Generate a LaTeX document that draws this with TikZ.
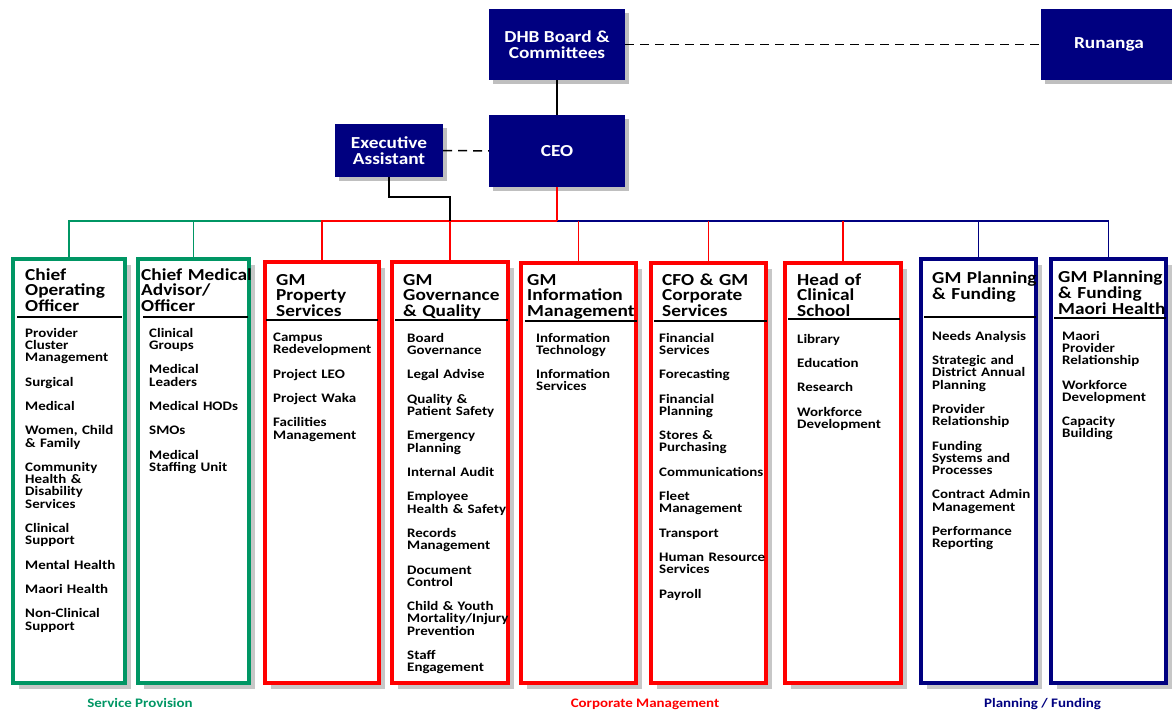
\documentclass[tikz,border=0pt]{standalone}
\usepackage{fontspec}
\setmainfont[FakeStretch=1.15]{Carlito}
\usepackage{xcolor}
\usetikzlibrary{shadows,fit}
\definecolor{navy}{RGB}{0,0,128}
\definecolor{dhbred}{RGB}{255,0,0}
\definecolor{dhbgreen}{RGB}{0,150,100}
\newcommand{\headfont}{\fontsize{16.8}{15.8}\selectfont\bfseries}
\newcommand{\itemfont}{\fontsize{13}{12.2}\selectfont\bfseries}
\newcommand{\nextitem}{\\[12.2pt]}
\tikzset{
	x=1pt, y=-1pt,
	topbox/.style={fill=navy, text=white, font=\headfont, align=center, inner sep=0pt,
		minimum width=136pt,
		drop shadow={shadow xshift=4pt, shadow yshift=-4pt, fill=black!25, opacity=1}},
	colbox/.style={draw=#1, line width=4pt, fill=white, inner sep=0pt,
		drop shadow={shadow xshift=5.5pt, shadow yshift=-5.5pt, fill=black!22, opacity=1}},
	heading/.style={anchor=base west, align=left, text width=135pt, inner sep=0pt, font=\headfont},
	items/.style={anchor=base west, align=left, text width=125pt, inner sep=0pt, font=\itemfont},
	headrule/.style={black, line width=1.5pt},
	link/.style={line width=1.5pt},
	tie/.style={link, dash pattern=on 9pt off 6pt},
	arealabel/.style={anchor=base, inner sep=0pt, font=\fontsize{13}{13}\selectfont\bfseries, text=#1},
}
\begin{document}
\begin{tikzpicture}
	\useasboundingbox (0,0) rectangle (1172,710);

	% board, CEO and the rest of the top
	\node[topbox, minimum height=71pt] (board) at (557,44.5) {DHB Board \&\\Committees};
	\node[topbox, minimum height=71pt] (runanga) at (1109,44.5) {Runanga};
	\node[topbox, minimum height=72pt] (ceo) at (557,151) {CEO};
	\node[topbox, minimum width=108pt, minimum height=53pt] (ea) at (389,150.5) {Executive\\Assistant};

	% the columns
	\node[colbox=dhbgreen, fit={(13,259) (125,683)}] (coo) {};
	\node[colbox=dhbgreen, fit={(138,259) (249,683)}] (cma) {};
	\node[colbox=dhbred, fit={(265,262) (379,683)}] (prop) {};
	\node[colbox=dhbred, fit={(392,262) (508,683)}] (gov) {};
	\node[colbox=dhbred, fit={(521,263) (636,683)}] (info) {};
	\node[colbox=dhbred, fit={(651,263) (766,683)}] (cfo) {};
	\node[colbox=dhbred, fit={(785,263) (901,683)}] (school) {};
	\node[colbox=navy, fit={(921,259) (1036,683)}] (pf) {};
	\node[colbox=navy, fit={(1051,259) (1166,683)}] (pfm) {};

	% connectors
	\draw[link] (board) -- (ceo);
	\draw[tie] (board) -- (runanga);
	\draw[tie] (ea) -- (ceo);
	\coordinate (bus) at (557,221);
	\draw[link, navy] (pfm.north) |- (bus);
	\draw[link, navy] (pf.north) -- (pf.north |- bus);
	\draw[link, dhbgreen] (coo.north) |- (prop.north |- bus);
	\draw[link, dhbgreen] (cma.north) -- (cma.north |- bus);
	\draw[link, dhbred] (prop.north) |- (bus);
	\foreach \col in {gov,info,cfo,school}
		\draw[link, dhbred] (\col.north) -- (\col.north |- bus);
	\draw[link, dhbred] (ceo) -- (bus);
	\draw[link] (ea.south) -- ++(0,20) -| (gov.north |- bus);

	% headings
	\node[heading] (coo-h) at (25,280) {Chief\\Operating\\Officer};
	\node[heading] (cma-h) at (141,280) {Chief Medical\\Advisor/\\Officer};
	\node[heading] (prop-h) at (276,285) {GM\\Property\\Services};
	\node[heading] (gov-h) at (403,285) {GM\\Governance\\\& Quality};
	\node[heading] (info-h) at (527,285) {GM\\Information\\Management};
	\node[heading] (cfo-h) at (662,285) {CFO \& GM\\Corporate\\Services};
	\node[heading] (school-h) at (797,285) {Head of\\Clinical\\School};
	\node[heading] (pf-h) at (932,283.3) {GM Planning\\\& Funding};
	\node[heading] (pfm-h) at (1058,282.7) {GM Planning\\\& Funding\\Maori Health};

	\draw[headrule] (17,317) -- (122,317);
	\draw[headrule] (143,317) -- (248,317);
	\draw[headrule] (266,320) -- (378,320);
	\draw[headrule] (395,320) -- (508,320);
	\draw[headrule] (525,321) -- (637,321);
	\draw[headrule] (654,321) -- (767,321);
	\draw[headrule] (788,319) -- (900,319);
	\draw[headrule] (924,317) -- (1036,317);
	\draw[headrule] (1054,318) -- (1166,318);

	% what each one covers
	\node[items] (coo-i) at (25,337.3) {Provider\\Cluster\\Management\nextitem Surgical\nextitem Medical\nextitem
		Women, Child\\\& Family\nextitem Community\\Health \&\\Disability\\Services\nextitem
		Clinical\\Support\nextitem Mental Health\nextitem Maori Health\nextitem Non-Clinical\\Support};
	\node[items] (cma-i) at (149,337.3) {Clinical\\Groups\nextitem Medical\\Leaders\nextitem Medical HODs\nextitem
		SMOs\nextitem Medical\\Staffing Unit};
	\node[items] (prop-i) at (273,341.5) {Campus\\Redevelopment\nextitem Project LEO\nextitem Project Waka\nextitem
		Facilities\\Management};
	\node[items] (gov-i) at (407,342.3) {Board\\Governance\nextitem Legal Advise\nextitem Quality \&\\Patient Safety\nextitem
		Emergency\\Planning\nextitem Internal Audit\nextitem Employee\\Health \& Safety\nextitem
		Records\\Management\nextitem Document\\Control\nextitem Child \& Youth\\Mortality/Injury\\Prevention\nextitem
		Staff\\Engagement};
	\node[items] (info-i) at (536,342) {Information\\Technology\nextitem Information\\Services};
	\node[items] (cfo-i) at (659,342) {Financial\\Services\nextitem Forecasting\nextitem Financial\\Planning\nextitem
		Stores \&\\Purchasing\nextitem Communications\nextitem Fleet\\Management\nextitem Transport\nextitem
		Human Resource\\Services\nextitem Payroll};
	\node[items] (school-i) at (797,343) {Library\nextitem Education\nextitem Research\nextitem Workforce\\Development};
	\node[items] (pf-i) at (932,340.3) {Needs Analysis\nextitem Strategic and\\District Annual\\Planning\nextitem
		Provider\\Relationship\nextitem Funding\\Systems and\\Processes\nextitem Contract Admin\\Management\nextitem
		Performance\\Reporting};
	\node[items] (pfm-i) at (1062,340.3) {Maori\\Provider\\Relationship\nextitem Workforce\\Development\nextitem
		Capacity\\Building};

	% group names along the bottom
	\node[arealabel=dhbgreen] (service) at (140,707.5) {Service Provision};
	\node[arealabel=dhbred] (corporate) at (645,707.5) {Corporate Management};
	\node[arealabel=navy] (planning) at (1042.5,707.5) {Planning / Funding};
\end{tikzpicture}
\end{document}
